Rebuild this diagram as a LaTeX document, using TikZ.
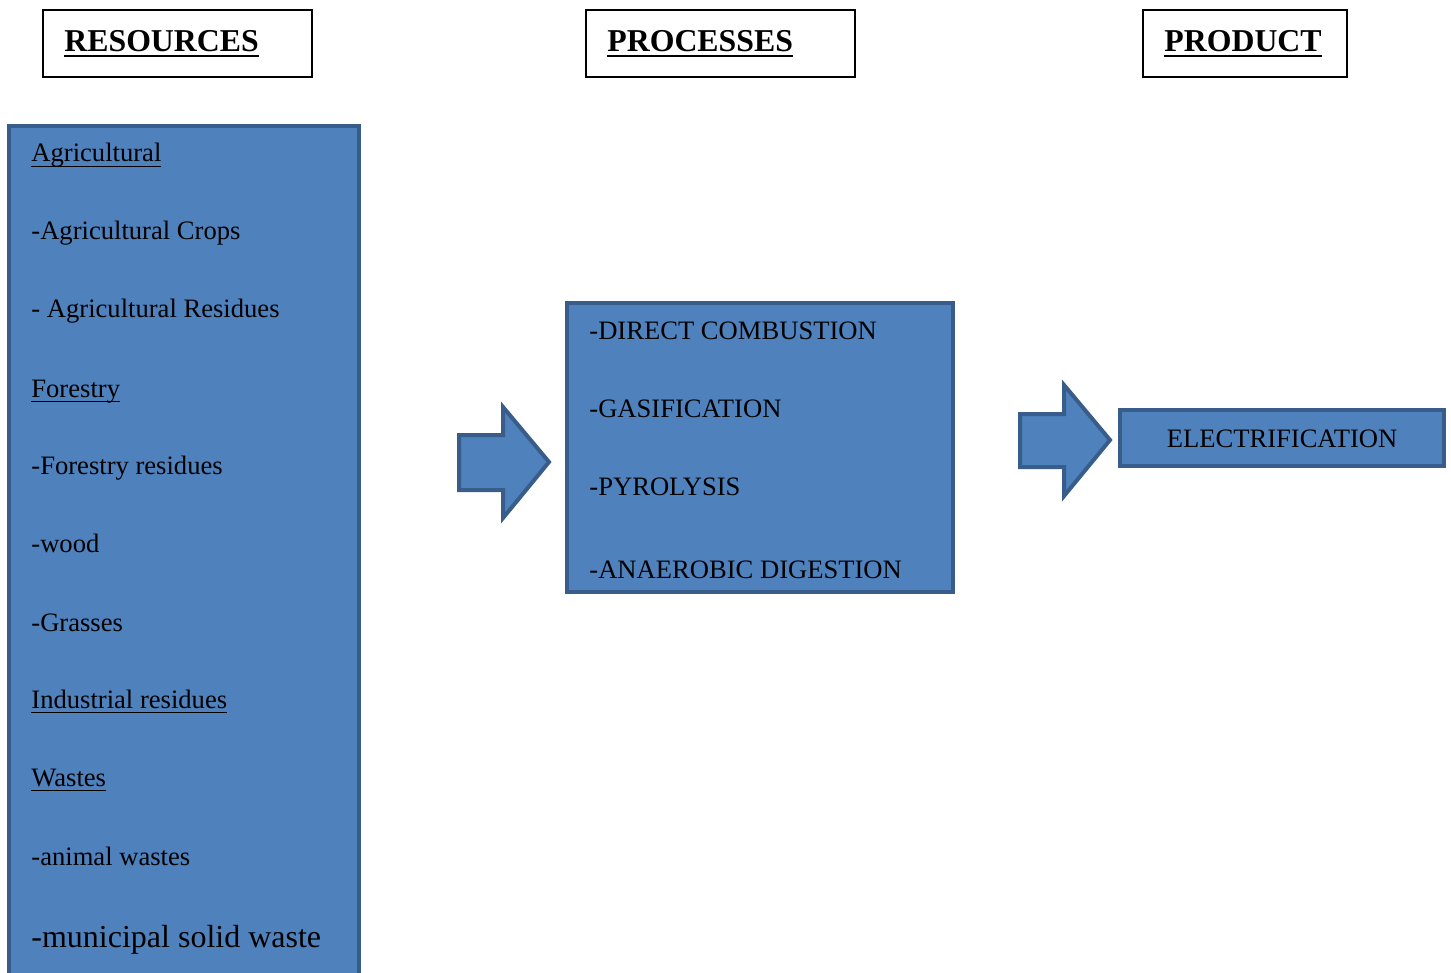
\documentclass[tikz,border=0pt]{standalone}
\usepackage{fontspec}
\setmainfont{Liberation Serif}
\definecolor{boxblue}{HTML}{4F81BD}
\definecolor{edgeblue}{HTML}{385D8A}
% underline with a chosen thickness
\newcommand{\headul}[2][1.3pt]{\setbox0\hbox{#2}\rlap{\raisebox{-2.6pt}{\rule{\wd0}{#1}}}\box0}
\tikzset{
  headbox/.style={draw=black, line width=1pt},
  bluebox/.style={draw=edgeblue, fill=boxblue, line width=2pt},
  item/.style={anchor=base west, inner sep=0pt, font=\fontsize{13.3}{15}\selectfont},
  title/.style={anchor=base west, inner sep=0pt, font=\fontsize{15.9}{19}\selectfont\bfseries}
}

\begin{document}
\begin{tikzpicture}[x=0.5pt,y=-0.5pt]
  \clip (0,0) rectangle (1451,973);

% Column headers
  \draw[headbox] (43,10) rectangle (312,77);
  \node[title] (res) at (64,52) {\headul{RESOURCES}};

  \draw[headbox] (586,10) rectangle (855,77);
  \node[title] (proc) at (607,52) {\headul{PROCESSES}};

  \draw[headbox] (1143,10) rectangle (1347,77);
  \node[title] (prod) at (1164,52) {\headul{PRODUCT}};

% Resources list
  \draw[bluebox] (9,126) rectangle (359,990);

  \node[item] (agri) at (31,162) {\headul[0.8pt]{Agricultural}};
  \node[item] (crops) at (31,240) {-Agricultural Crops};
  \node[item] (agres) at (31,318) {- Agricultural Residues};
  \node[item] (fores) at (31,397) {\headul[0.8pt]{Forestry}};
  \node[item] (fres) at (31,474) {-Forestry residues};
  \node[item] (wood) at (31,552) {-wood};
  \node[item] (grass) at (31,631) {-Grasses};
  \node[item] (indus) at (31,708) {\headul[0.8pt]{Industrial residues}};
  \node[item] (wastes) at (31,786) {\headul[0.8pt]{Wastes}};
  \node[item] (animal) at (31,865) {-animal wastes};
  \node[item, font=\fontsize{16}{19}\selectfont] (msw) at (31,947) {-municipal solid waste};

% First block arrow
  \draw[bluebox] (459,435) -- (503,435) -- (503,407) -- (549,462)
    -- (503,518) -- (503,490) -- (459,490) -- cycle;

% Processes
  \draw[bluebox] (567,303) rectangle (953,592);

  \node[item] (comb) at (589,339) {-DIRECT COMBUSTION};
  \node[item] (gasif) at (589,417) {-GASIFICATION};
  \node[item] (pyro) at (589,495) {-PYROLYSIS};
  \node[item] (anae) at (589,578) {-ANAEROBIC DIGESTION};

% Second block arrow
  \draw[bluebox] (1020,414) -- (1064,414) -- (1064,385) -- (1110,440)
    -- (1064,496) -- (1064,467) -- (1020,467) -- cycle;

% Product
  \draw[bluebox] (1120,410) rectangle (1444,466);
  \node[item, anchor=base] (elec) at (1282,447) {ELECTRIFICATION};

\end{tikzpicture}
\end{document}
